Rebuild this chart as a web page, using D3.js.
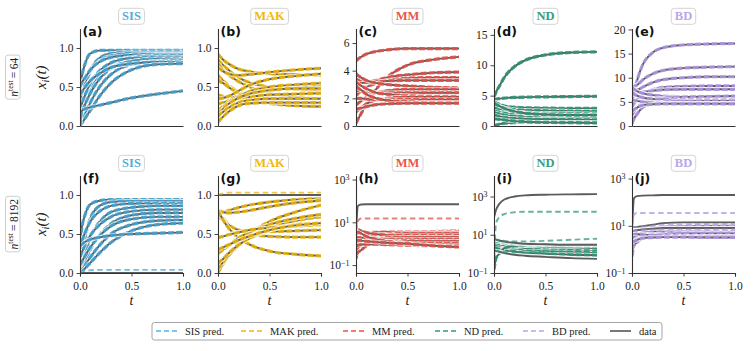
<!DOCTYPE html>
<html>
<head>
<meta charset="utf-8">
<script src="https://cdn.jsdelivr.net/npm/d3@7"></script>
<style>
  body { margin: 0; background: #fff; }
</style>
</head>
<body>
<svg id="chart" width="753" height="351"></svg>
<script>
// time grid the trajectories are read at
const T = [0, 0.02, 0.05, 0.1, 0.2, 0.3, 0.5, 0.75, 1];

// n_test = 64 (data and prediction coincide)
const sisSmall = [
  [0.45, 0.65, 0.80, 0.93, 0.97, 0.97, 0.97, 0.97, 0.97],
  [0.00, 0.20, 0.45, 0.70, 0.88, 0.93, 0.95, 0.95, 0.95],
  [0.30, 0.42, 0.55, 0.70, 0.84, 0.90, 0.93, 0.93, 0.93],
  [0.50, 0.56, 0.62, 0.72, 0.83, 0.88, 0.91, 0.92, 0.92],
  [0.00, 0.11, 0.25, 0.45, 0.68, 0.80, 0.88, 0.90, 0.90],
  [0.20, 0.29, 0.40, 0.55, 0.72, 0.81, 0.87, 0.88, 0.88],
  [0.10, 0.18, 0.28, 0.42, 0.62, 0.74, 0.83, 0.86, 0.86],
  [0.00, 0.06, 0.15, 0.30, 0.52, 0.66, 0.79, 0.83, 0.84],
  [0.40, 0.44, 0.50, 0.58, 0.68, 0.75, 0.80, 0.82, 0.82],
  [0.00, 0.04, 0.10, 0.20, 0.40, 0.55, 0.72, 0.79, 0.80],
  [0.00, 0.20, 0.22, 0.24, 0.27, 0.30, 0.36, 0.41, 0.45]
];
const makSmall = [
  [0.92, 0.89, 0.85, 0.80, 0.73, 0.70, 0.67, 0.66, 0.65],
  [0.85, 0.82, 0.78, 0.72, 0.62, 0.56, 0.50, 0.47, 0.45],
  [0.80, 0.77, 0.72, 0.66, 0.57, 0.50, 0.42, 0.37, 0.35],
  [0.75, 0.73, 0.70, 0.67, 0.65, 0.66, 0.69, 0.72, 0.74],
  [0.65, 0.62, 0.58, 0.52, 0.44, 0.39, 0.33, 0.30, 0.28],
  [0.60, 0.57, 0.55, 0.50, 0.42, 0.36, 0.29, 0.26, 0.25],
  [0.40, 0.39, 0.38, 0.37, 0.38, 0.40, 0.45, 0.50, 0.52],
  [0.35, 0.35, 0.36, 0.38, 0.45, 0.52, 0.60, 0.64, 0.67],
  [0.28, 0.29, 0.30, 0.32, 0.35, 0.37, 0.40, 0.41, 0.42],
  [0.20, 0.22, 0.25, 0.30, 0.38, 0.44, 0.50, 0.53, 0.55],
  [0.15, 0.18, 0.22, 0.28, 0.36, 0.41, 0.46, 0.48, 0.48],
  [0.12, 0.15, 0.18, 0.23, 0.30, 0.33, 0.35, 0.35, 0.35],
  [0.05, 0.08, 0.12, 0.18, 0.26, 0.29, 0.30, 0.30, 0.30]
];
const mmSmall = [
  [4.7, 4.85, 5.0, 5.2, 5.4, 5.5, 5.6, 5.6, 5.6],
  [0.2, 0.5, 0.9, 1.6, 2.7, 3.5, 4.4, 4.8, 5.0],
  [3.4, 3.35, 3.3, 3.2, 3.3, 3.5, 3.7, 3.85, 3.9],
  [2.2, 2.35, 2.5, 2.8, 3.1, 3.3, 3.45, 3.5, 3.5],
  [3.0, 3.05, 3.1, 3.15, 3.2, 3.25, 3.3, 3.3, 3.3],
  [3.8, 3.65, 3.5, 3.3, 3.1, 3.0, 2.9, 2.8, 2.75],
  [1.5, 1.65, 1.8, 2.1, 2.4, 2.55, 2.65, 2.65, 2.65],
  [2.6, 2.55, 2.5, 2.45, 2.4, 2.4, 2.4, 2.4, 2.4],
  [3.2, 3.05, 2.9, 2.7, 2.4, 2.3, 2.2, 2.15, 2.15],
  [1.0, 1.15, 1.3, 1.6, 1.9, 2.0, 2.1, 2.1, 2.1],
  [2.0, 2.0, 2.0, 1.95, 1.9, 1.9, 1.9, 1.9, 1.9],
  [2.9, 2.75, 2.6, 2.3, 2.0, 1.85, 1.75, 1.7, 1.7],
  [1.2, 1.25, 1.3, 1.4, 1.55, 1.6, 1.65, 1.65, 1.65]
];
const ndSmall = [
  [4.8, 5.6, 6.5, 8.0, 9.8, 10.8, 11.7, 12.1, 12.2],
  [4.4, 4.45, 4.5, 4.6, 4.7, 4.75, 4.8, 4.85, 4.9],
  [4.0, 3.8, 3.6, 3.3, 3.1, 3.0, 2.95, 2.9, 2.9],
  [3.5, 3.35, 3.2, 3.0, 2.7, 2.6, 2.5, 2.45, 2.4],
  [3.0, 2.9, 2.8, 2.6, 2.3, 2.2, 2.1, 2.05, 2.0],
  [2.5, 2.4, 2.3, 2.1, 1.9, 1.8, 1.7, 1.65, 1.6],
  [2.2, 2.1, 2.0, 1.8, 1.6, 1.5, 1.4, 1.35, 1.3],
  [1.8, 1.7, 1.6, 1.4, 1.25, 1.15, 1.1, 1.05, 1.0],
  [3.8, 3.55, 3.3, 2.9, 2.4, 2.1, 1.9, 1.8, 1.8],
  [0.05, 0.15, 0.3, 0.45, 0.55, 0.6, 0.6, 0.6, 0.6],
  [1.2, 1.15, 1.1, 1.0, 0.8, 0.7, 0.6, 0.55, 0.5]
];
const bdSmall = [
  [5.0, 7.0, 9.5, 12.5, 15.2, 16.2, 16.8, 17.0, 17.1],
  [8.0, 8.2, 8.5, 9.5, 10.8, 11.5, 12.0, 12.2, 12.3],
  [7.5, 7.5, 7.5, 8.0, 9.0, 9.6, 10.0, 10.2, 10.2],
  [4.0, 4.7, 5.5, 6.5, 7.5, 8.0, 8.2, 8.3, 8.3],
  [6.5, 6.6, 6.8, 7.0, 7.3, 7.5, 7.6, 7.6, 7.6],
  [8.0, 7.6, 7.2, 6.8, 6.4, 6.2, 6.1, 6.1, 6.1],
  [2.0, 2.9, 3.8, 4.8, 5.5, 5.8, 6.0, 6.1, 6.2],
  [7.0, 6.6, 6.3, 5.9, 5.6, 5.5, 5.4, 5.4, 5.4],
  [0.5, 1.5, 2.5, 3.8, 4.7, 5.0, 5.1, 5.2, 5.2],
  [5.5, 5.35, 5.2, 5.0, 4.8, 4.7, 4.7, 4.7, 4.7],
  [3.0, 3.4, 3.8, 4.3, 4.5, 4.6, 4.6, 4.6, 4.6]
];

// n_test = 8192: shared curves, plus data / prediction pairs that part ways
const sisLargeShared = [
  [0.40, 0.60, 0.75, 0.88, 0.93, 0.94, 0.94, 0.94, 0.94],
  [0.00, 0.20, 0.45, 0.70, 0.87, 0.91, 0.92, 0.92, 0.92],
  [0.30, 0.41, 0.52, 0.66, 0.80, 0.86, 0.89, 0.89, 0.89],
  [0.00, 0.11, 0.25, 0.45, 0.67, 0.78, 0.84, 0.86, 0.86],
  [0.20, 0.27, 0.36, 0.48, 0.63, 0.72, 0.79, 0.81, 0.81],
  [0.00, 0.06, 0.15, 0.30, 0.50, 0.63, 0.74, 0.77, 0.77],
  [0.10, 0.15, 0.22, 0.33, 0.49, 0.60, 0.69, 0.72, 0.72],
  [0.00, 0.04, 0.10, 0.20, 0.37, 0.50, 0.62, 0.67, 0.68],
  [0.00, 0.02, 0.06, 0.13, 0.27, 0.39, 0.54, 0.62, 0.64],
  [0.35, 0.37, 0.40, 0.43, 0.46, 0.48, 0.50, 0.51, 0.52]
];
const sisLargeData = [[0, 0, 0, 0, 0, 0, 0, 0, 0]];
const sisLargePred = [[0.00, 0.02, 0.03, 0.035, 0.04, 0.04, 0.04, 0.04, 0.04]];

const makLargeShared = [
  [0.75, 0.76, 0.78, 0.80, 0.84, 0.87, 0.91, 0.94, 0.96],
  [0.80, 0.79, 0.78, 0.77, 0.78, 0.80, 0.85, 0.90, 0.93],
  [0.78, 0.74, 0.70, 0.63, 0.55, 0.50, 0.47, 0.46, 0.46],
  [0.74, 0.71, 0.68, 0.62, 0.55, 0.52, 0.53, 0.54, 0.55],
  [0.80, 0.75, 0.68, 0.58, 0.45, 0.37, 0.28, 0.24, 0.22],
  [0.00, 0.05, 0.12, 0.22, 0.38, 0.50, 0.66, 0.78, 0.87],
  [0.05, 0.09, 0.14, 0.22, 0.35, 0.45, 0.58, 0.67, 0.72],
  [0.12, 0.15, 0.18, 0.25, 0.36, 0.44, 0.55, 0.62, 0.64],
  [0.25, 0.27, 0.30, 0.35, 0.45, 0.52, 0.62, 0.70, 0.75],
  [0.45, 0.46, 0.47, 0.49, 0.52, 0.55, 0.58, 0.60, 0.62],
  [0.30, 0.31, 0.33, 0.36, 0.42, 0.47, 0.55, 0.61, 0.64]
];
const makLargeData = [[1.0, 1.0, 1.0, 1.0, 1.0, 1.0, 1.0, 1.0, 1.0]];
const makLargePred = [[1.0, 1.01, 1.02, 1.03, 1.03, 1.03, 1.03, 1.03, 1.03]];

const mmLargeShared = [
  [0.2, 0.5, 0.9, 1.5, 2.3, 2.8, 3.3, 3.7, 4.0],
  [3.0, 3.1, 3.2, 3.3, 3.4, 3.5, 3.5, 3.5, 3.5],
  [1.0, 1.3, 1.6, 2.0, 2.5, 2.8, 3.0, 3.0, 3.0],
  [5.0, 4.5, 4.0, 3.3, 2.8, 2.5, 2.4, 2.4, 2.4],
  [0.5, 0.7, 0.9, 1.3, 1.7, 1.9, 2.0, 2.0, 2.0],
  [2.0, 1.95, 1.9, 1.8, 1.7, 1.6, 1.6, 1.6, 1.6],
  [0.3, 0.4, 0.5, 0.8, 1.1, 1.3, 1.35, 1.3, 1.3],
  [4.0, 3.5, 3.0, 2.2, 1.6, 1.3, 1.1, 1.0, 1.0],
  [0.8, 0.85, 0.9, 0.95, 0.95, 0.9, 0.85, 0.8, 0.8],
  [1.5, 1.45, 1.4, 1.3, 1.2, 1.1, 1.0, 0.8, 0.7]
];
const mmLargeData = [[4, 60, 68, 70, 70, 70, 70, 70, 70]];
const mmLargePred = [[4, 12, 15, 15, 15, 15, 15, 15, 15]];

const ndLargeShared = [
  [4.0, 3.8, 3.5, 3.0, 2.6, 2.3, 2.1, 2.0, 1.9],
  [3.0, 2.9, 2.7, 2.4, 2.0, 1.8, 1.6, 1.5, 1.4],
  [2.5, 2.4, 2.2, 1.9, 1.6, 1.4, 1.3, 1.2, 1.1],
  [2.0, 1.9, 1.8, 1.5, 1.3, 1.1, 1.0, 0.9, 0.85],
  [0.15, 0.6, 1.0, 2.0, 2.6, 2.8, 2.9, 3.0, 3.0],
  [5.0, 4.8, 4.5, 4.0, 3.5, 3.2, 3.0, 2.8, 2.7]
];
const ndLargeData = [
  [80, 200, 400, 700, 1000, 1150, 1250, 1300, 1330],
  [1.5, 1.4, 1.3, 1.1, 0.9, 0.8, 0.7, 0.6, 0.55],
  [6.0, 5.6, 5.0, 4.4, 3.8, 3.4, 3.2, 3.0, 3.0]
];
const ndLargePred = [
  [0.2, 40, 80, 120, 150, 160, 160, 160, 160],
  [1.5, 1.45, 1.4, 1.3, 1.2, 1.2, 1.3, 1.4, 1.5],
  [6.0, 5.7, 5.2, 4.8, 4.5, 4.5, 4.8, 5.5, 6.2]
];

const bdLargeShared = [
  [0.5, 1.5, 3.0, 6.0, 8.0, 9.0, 9.5, 10.0, 10.0],
  [3.0, 3.5, 4.0, 5.0, 6.0, 6.5, 6.5, 6.5, 6.5],
  [8.0, 7.5, 7.0, 6.5, 6.0, 5.5, 5.5, 5.5, 5.5],
  [1.0, 1.5, 2.0, 3.0, 4.0, 4.5, 4.7, 4.7, 4.7],
  [5.0, 4.8, 4.5, 4.2, 4.0, 3.8, 3.7, 3.6, 3.6],
  [2.0, 2.2, 2.5, 3.0, 3.2, 3.3, 3.3, 3.2, 3.2]
];
const bdLargeData = [
  [5, 150, 180, 190, 195, 200, 200, 200, 200],
  [9.0, 9.0, 9.0, 9.5, 11, 13, 14, 14, 14],
  [6.0, 6.2, 6.5, 7.0, 7.5, 8.0, 8.0, 8.0, 8.0]
];
const bdLargePred = [
  [10, 30, 35, 35, 35, 35, 35, 35, 35],
  [9.0, 9.0, 9.0, 9.3, 10, 11, 11.5, 12, 12],
  [6.0, 6.1, 6.2, 6.5, 6.8, 7.0, 7.0, 7.0, 7.0]
];

const modelNames = ['SIS', 'MAK', 'MM', 'ND', 'BD'];
const modelColors = ['#45a0cc', '#e6b10a', '#dd5047', '#2c9474', '#ac94de'];
const titleColors = ['#52acd8', '#f2b90a', '#e8574d', '#3a9c7d', '#bba6ea'];
const legendColors = ['#56b4e9', '#f2b400', '#ef5046', '#2a9d78', '#b9a3f0'];
const dataColor = '#5c5c5c';

const rowLabels = ['64', '8192'];
const linTicks = [0, 0.5, 1];
const xTicks = [0, 0.5, 1];
const logTicks = [0.1, 10, 1000];

// layout
const SERIF = '"Liberation Serif", "Times New Roman", serif';
const colX = [80, 218, 356, 494, 632];
const W = 103;
const rows = [{ top: 28.5, bottom: 126 }, { top: 175.5, bottom: 273 }];

const panels = [
  { id: 'a', row: 0, col: 0, domain: [0, 1.25], ticks: linTicks, fmt: '.1f', shared: sisSmall },
  { id: 'b', row: 0, col: 1, domain: [0, 1.25], ticks: linTicks, fmt: '.1f', shared: makSmall },
  { id: 'c', row: 0, col: 2, domain: [0, 7.05], ticks: [0, 2, 4, 6], fmt: 'd', shared: mmSmall },
  { id: 'd', row: 0, col: 3, domain: [0, 16.05], ticks: [0, 5, 10, 15], fmt: 'd', shared: ndSmall },
  { id: 'e', row: 0, col: 4, domain: [0, 20.2], ticks: [0, 5, 10, 15, 20], fmt: 'd', shared: bdSmall },
  { id: 'f', row: 1, col: 0, domain: [0, 1.25], ticks: linTicks, fmt: '.1f', shared: sisLargeShared, data: sisLargeData, pred: sisLargePred },
  { id: 'g', row: 1, col: 1, domain: [0, 1.25], ticks: linTicks, fmt: '.1f', shared: makLargeShared, data: makLargeData, pred: makLargePred },
  { id: 'h', row: 1, col: 2, log: true, domain: [Math.pow(10, -1.37), Math.pow(10, 3.19)], ticks: logTicks, shared: mmLargeShared, data: mmLargeData, pred: mmLargePred },
  { id: 'i', row: 1, col: 3, log: true, domain: [0.1, Math.pow(10, 4.1)], ticks: logTicks, shared: ndLargeShared, data: ndLargeData, pred: ndLargePred },
  { id: 'j', row: 1, col: 4, log: true, domain: [0.1, Math.pow(10, 3.13)], ticks: logTicks, shared: bdLargeShared, data: bdLargeData, pred: bdLargePred }
];

const svg = d3.select('#chart');
const defs = svg.append('defs');

function styleAxis(g) {
  g.attr('font-family', null);
  g.select('.domain').attr('stroke', '#333').attr('stroke-width', 1.1);
  g.selectAll('.tick line').attr('stroke', '#333').attr('stroke-width', 0.9);
  g.selectAll('.tick text')
    .style('font-family', SERIF)
    .style('font-size', '11.5px')
    .attr('fill', '#222');
}

function drawPanel(p) {
  const x0 = colX[p.col];
  const { top, bottom } = rows[p.row];
  const color = modelColors[p.col];

  const x = d3.scaleLinear().domain([0, 1]).range([x0, x0 + W]);
  const y = (p.log ? d3.scaleLog() : d3.scaleLinear()).domain(p.domain).range([bottom, top]);

  defs.append('clipPath').attr('id', 'clip-' + p.id)
    .append('rect').attr('x', x0).attr('y', top).attr('width', W).attr('height', bottom - top);

  const line = d3.line()
    .x((d, i) => x(T[i]))
    .y(d => y(d))
    .curve(d3.curveMonotoneX);

  const lines = svg.append('g').attr('clip-path', `url(#clip-${p.id})`);

  const dataLine = c => {
    lines.append('path').attr('d', line(c))
      .attr('fill', 'none').attr('stroke', '#fff').attr('stroke-width', 4.4).attr('stroke-opacity', 0.85);
    lines.append('path').attr('d', line(c))
      .attr('fill', 'none').attr('stroke', dataColor).attr('stroke-width', 1.9);
  };
  const predLine = (c, lone) => {
    lines.append('path').attr('d', line(c))
      .attr('fill', 'none').attr('stroke', color)
      .attr('stroke-width', lone ? 1.9 : 3.2)
      .attr('stroke-opacity', lone ? 0.72 : 0.9)
      .attr('stroke-dasharray', lone ? '5.5,3.5' : '6,2.2');
  };

  p.shared.forEach(c => { dataLine(c); predLine(c, false); });
  (p.data || []).forEach(dataLine);
  (p.pred || []).forEach(c => predLine(c, true));

  // y axis
  const yAxis = d3.axisLeft(y).tickValues(p.ticks).tickSize(3.5).tickSizeOuter(0).tickPadding(3);
  if (p.log) yAxis.tickFormat(() => '10');
  else yAxis.tickFormat(d3.format(p.fmt));
  const yg = svg.append('g').attr('transform', `translate(${x0},0)`).call(yAxis);
  styleAxis(yg);
  if (p.log) {
    yg.selectAll('.tick text').each(function (d) {
      const e = Math.round(Math.log10(d));
      d3.select(this).append('tspan')
        .attr('dy', '-0.45em').style('font-size', '8px')
        .text(e < 0 ? '\u2212' + Math.abs(e) : String(e));
    });
  }

  // x axis
  const xAxis = d3.axisBottom(x).tickSizeOuter(0);
  if (p.row === 1) xAxis.tickValues(xTicks).tickSize(3.5).tickPadding(5).tickFormat(d3.format('.1f'));
  else xAxis.tickValues([]);
  const xg = svg.append('g').attr('transform', `translate(0,${bottom})`).call(xAxis);
  styleAxis(xg);

  if (p.row === 1) {
    svg.append('text')
      .attr('x', x0 + W / 2).attr('y', 305)
      .attr('text-anchor', 'middle')
      .style('font-family', SERIF).style('font-size', '14px').style('font-style', 'italic')
      .attr('fill', '#222')
      .text('t');
  }

  // panel letter
  svg.append('text')
    .attr('x', x0 + 2.5).attr('y', top + 7)
    .style('font-family', '"DejaVu Sans", sans-serif')
    .style('font-weight', 'bold').style('font-size', '12.5px')
    .attr('fill', '#111')
    .text(`(${p.id})`);

  // boxed model title
  const tg = svg.append('g');
  const tt = tg.append('text')
    .attr('x', x0 + W / 2).attr('y', (p.row === 0 ? 16 : 163) + 4.3)
    .attr('text-anchor', 'middle')
    .style('font-family', SERIF)
    .style('font-weight', 'bold').style('font-size', '12.5px')
    .attr('fill', titleColors[p.col])
    .text(modelNames[p.col]);
  const bb = tt.node().getBBox();
  tg.insert('rect', 'text')
    .attr('x', bb.x - 3.5).attr('y', bb.y - 1)
    .attr('width', bb.width + 7).attr('height', bb.height + 2)
    .attr('rx', 3).attr('fill', '#fff').attr('stroke', '#d4d4d4').attr('stroke-width', 1);
}

panels.forEach(drawPanel);

// row labels on the left
rows.forEach((r, i) => {
  const cy = (r.top + r.bottom) / 2;
  const yl = svg.append('text')
    .attr('transform', `translate(46,${cy}) rotate(-90)`)
    .attr('text-anchor', 'middle')
    .style('font-family', SERIF).style('font-size', '15px').style('font-style', 'italic')
    .attr('fill', '#222');
  yl.append('tspan').text('x');
  yl.append('tspan').style('font-size', '10px').attr('dy', 3).text('i');
  yl.append('tspan').attr('dy', -3).text('(t)');

  const g = svg.append('g').attr('transform', `translate(17.5,${cy}) rotate(-90)`);
  const nt = g.append('text').attr('x', 0).attr('y', 0).attr('text-anchor', 'middle')
    .style('font-family', SERIF).style('font-size', '11.5px').attr('fill', '#222');
  nt.append('tspan').style('font-style', 'italic').text('n');
  nt.append('tspan').style('font-size', '7.5px').attr('dy', -4.5).text('test');
  nt.append('tspan').attr('dy', 4.5).text('\u2009=\u2009' + rowLabels[i]);
  const b = nt.node().getBBox();
  g.insert('rect', 'text')
    .attr('x', b.x - 2.5).attr('y', b.y - 0.5)
    .attr('width', b.width + 5).attr('height', b.height + 1)
    .attr('rx', 2.5).attr('fill', '#fff').attr('stroke', '#cfcfcf');
});

// legend
const legendItems = modelNames.map((m, i) => ({ label: m + ' pred.', color: legendColors[i], dash: true }))
  .concat([{ label: 'data', color: '#555', dash: false }]);
const legendX = [156, 241, 343, 435, 523, 610];
const lg = svg.append('g');
lg.append('rect')
  .attr('x', 152).attr('y', 322.5).attr('width', 510).attr('height', 17.5)
  .attr('rx', 2.5).attr('fill', '#fff').attr('stroke', '#9a9a9a').attr('stroke-width', 0.9);
legendItems.forEach((it, i) => {
  const lx = legendX[i];
  lg.append('line')
    .attr('x1', lx).attr('x2', lx + 21).attr('y1', 331).attr('y2', 331)
    .attr('stroke', it.color).attr('stroke-width', 1.6)
    .attr('stroke-dasharray', it.dash ? '5,3' : null);
  lg.append('text')
    .attr('x', lx + 29).attr('y', 334.5)
    .style('font-family', SERIF).style('font-size', '10.5px')
    .attr('fill', '#222')
    .text(it.label);
});
</script>
</body>
</html>
